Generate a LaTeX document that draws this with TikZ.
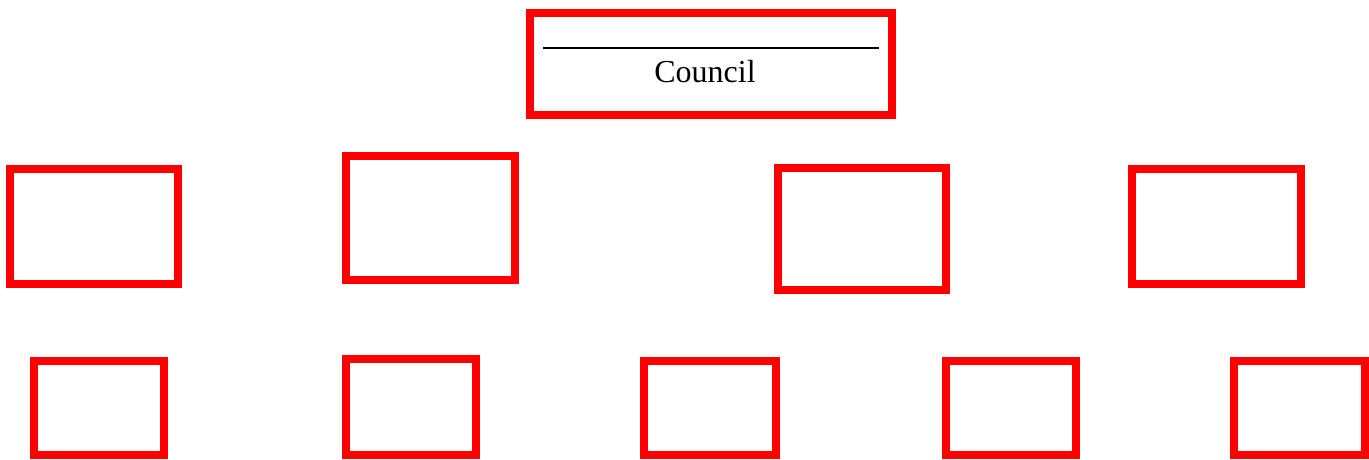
\documentclass[tikz,border=0pt]{standalone}
\usepackage{fontspec}
\setmainfont{Liberation Serif}
\begin{document}
\begin{tikzpicture}[x=1pt,y=-1pt,
  box/.style={draw=red,line width=7.5pt,inner sep=0pt,outer sep=0pt},
  lbl/.style={font=\fontsize{32}{36}\selectfont,inner sep=0pt}]
\useasboundingbox (0,0) rectangle (1369,459);
% top
\node[box,minimum width=362pt,minimum height=102pt] (council) at (711,64) {};
\node[lbl,anchor=base] (ctext) at (705,82) {Council};
\coordinate (rl) at (543,48);
\coordinate (rr) at (879,48);
\draw[line width=1.5pt] (rl) -- (rr);
% second row
\node[box,minimum width=168pt,minimum height=115pt] (a1) at (94,226.5) {};
\node[box,minimum width=169pt,minimum height=124pt] (a2) at (430.5,218) {};
\node[box,minimum width=168pt,minimum height=122pt] (a3) at (862,229) {};
\node[box,minimum width=169pt,minimum height=115pt] (a4) at (1216.5,226.5) {};
% third row
\node[box,minimum width=130pt,minimum height=94pt] (b1) at (99,408) {};
\node[box,minimum width=130pt,minimum height=96pt] (b2) at (411,407) {};
\node[box,minimum width=132pt,minimum height=94pt] (b3) at (710,408) {};
\node[box,minimum width=130pt,minimum height=94pt] (b4) at (1011,408) {};
\node[box,minimum width=131pt,minimum height=94pt] (b5) at (1299.5,408) {};
\end{tikzpicture}
\end{document}
